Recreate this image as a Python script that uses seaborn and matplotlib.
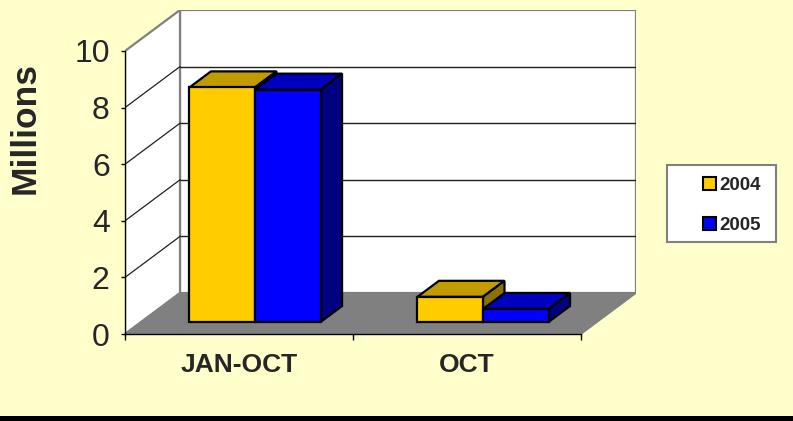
import matplotlib
matplotlib.use("Agg")
import matplotlib.pyplot as plt
from matplotlib.patches import Polygon, Rectangle, Patch
from matplotlib.lines import Line2D
import seaborn as sns
import pandas as pd

# ---------------- data ----------------
categories = ["JAN-OCT", "OCT"]
series = ["2004", "2005"]
values_2004 = [8.29, 0.89]
values_2005 = [8.21, 0.46]
y_ticks = [0, 2, 4, 6, 8, 10]
y_label = "Millions"

front_colors = {"2004": "#FFCC00", "2005": "#0000FF"}
top_colors = {"2004": "#C09C00", "2005": "#0000C0"}
side_colors = {"2004": "#8C7000", "2005": "#000080"}

df = pd.DataFrame({
    "category": categories * 2,
    "year": [series[0]] * len(categories) + [series[1]] * len(categories),
    "value": values_2004 + values_2005,
})

sns.set_theme(style="white")
plt.rcParams["font.family"] = ["Liberation Sans", "DejaVu Sans"]

W, H, DPI = 793, 421, 100
fig = plt.figure(figsize=(W / DPI, H / DPI), dpi=DPI, facecolor="#FFFFCC")

# geometry (pixels)
PXC = 228.0       # pixels per category
PXV = 28.3        # pixels per value unit
X0, Y0 = 125, 334  # front-plane origin (image coords)
WALL = (55, 41)    # full depth of the 3D box
BAR_FRONT = (16, 12)
BAR_DEPTH = (21.5, 16)

xmax = 1.5 + WALL[0] / PXC
ymax = 10 + WALL[1] / PXV
ax_w = (xmax + 0.5) * PXC
ax_h = ymax * PXV
ax = fig.add_axes([X0 / W, (H - Y0) / H, ax_w / W, ax_h / H])
ax.patch.set_alpha(0)

sns.barplot(data=df, x="category", y="value", hue="year", order=categories,
            hue_order=series, palette=front_colors, width=0.575,
            edgecolor="black", linewidth=1.6, saturation=1, ax=ax, legend=False)

ax.set_xlim(-0.5, xmax)
ax.set_ylim(0, ymax)

def d(px):
    return (px[0] / PXC, px[1] / PXV)

wx, wy = d(WALL)
fx, fy = d(BAR_FRONT)
bx, by = d(BAR_DEPTH)

gray = "#808080"
# back wall
ax.add_patch(Rectangle((-0.5 + wx, wy), 2, 10, facecolor="white", edgecolor=gray,
                       lw=1.6, zorder=0.5))
# side wall
ax.add_patch(Polygon([(-0.5, 0), (-0.5, 10), (-0.5 + wx, 10 + wy), (-0.5 + wx, wy)],
                     closed=True, facecolor="white", edgecolor=gray, lw=1.6, zorder=0.6))
# floor
ax.add_patch(Polygon([(-0.5, 0), (1.5, 0), (1.5 + wx, wy), (-0.5 + wx, wy)],
                     closed=True, facecolor=gray, edgecolor=gray, lw=1.2, zorder=0.7))
# gridlines
for t in y_ticks[1:-1]:
    ax.add_line(Line2D([-0.5 + wx, 1.5 + wx], [t + wy, t + wy], color="#202020", lw=1.0, zorder=0.8))
    ax.add_line(Line2D([-0.5, -0.5 + wx], [t, t + wy], color="#202020", lw=0.9, zorder=0.8))

# 3D bars
bars = [p for p in ax.patches if isinstance(p, Rectangle) and p.get_height() > 0
        and abs(p.get_width() - 0.2875) < 0.01]
for i, p in enumerate(bars):
    year = series[i // len(categories)]
    z = 3 + (i // len(categories)) * 0.2
    x, w, h = p.get_x(), p.get_width(), p.get_height()
    x0 = x + fx
    x1 = x0 + w
    y0 = fy
    y1 = fy + h
    p.set_x(x0)
    p.set_y(y0)
    p.set_zorder(z + 0.1)
    ax.add_patch(Polygon([(x0, y1), (x1, y1), (x1 + bx, y1 + by), (x0 + bx, y1 + by)],
                         closed=True, facecolor=top_colors[year], edgecolor="black",
                         lw=1.6, zorder=z, joinstyle="miter"))
    ax.add_patch(Polygon([(x1, y0), (x1, y1), (x1 + bx, y1 + by), (x1 + bx, y0 + by)],
                         closed=True, facecolor=side_colors[year], edgecolor="black",
                         lw=1.6, zorder=z, joinstyle="miter"))

# axes / ticks
for s in ["top", "right"]:
    ax.spines[s].set_visible(False)
ax.spines["left"].set_bounds(0, 10)
ax.spines["bottom"].set_bounds(-0.5, 1.5)
for s in ["left", "bottom"]:
    ax.spines[s].set_color("black")
    ax.spines[s].set_linewidth(1.0)
    ax.spines[s].set_zorder(2)

ax.set_yticks(y_ticks)
ax.set_yticklabels([str(t) for t in y_ticks])
ax.tick_params(axis="y", which="major", direction="out", length=3, width=1,
               color="black", labelsize=23, pad=8, left=True)
ax.set_xticks([-0.5, 0.5, 1.5])
ax.set_xticklabels([])
ax.set_xticks([0, 1], minor=True)
ax.set_xticklabels(categories, minor=True, fontweight="bold", fontsize=19)
ax.tick_params(axis="x", which="major", direction="out", length=4.3, width=1,
               color="black", bottom=True)
ax.tick_params(axis="x", which="minor", length=0, pad=14, bottom=True)
ax.set_xlabel("")
ax.set_ylabel(y_label, fontsize=25.5, fontweight="bold", va="center", ha="center")
ax.yaxis.set_label_coords((25 - X0) / ax_w, ((H - 128) - (H - Y0)) / ax_h)

# legend
fig.patches.append(Rectangle((667 / W, 1 - 242 / H), 109 / W, 77 / H, transform=fig.transFigure,
                             facecolor="white", edgecolor=gray, lw=1.5, zorder=5))
handles = [Patch(facecolor=front_colors[s], edgecolor="black", lw=1.5) for s in series]
fs = 13.5
fig.legend(handles, series, loc="upper left", bbox_to_anchor=(703 / W, 1 - 177 / H),
           frameon=False, prop={"weight": "bold", "size": fs},
           handlelength=0.69, handleheight=0.69, handletextpad=0.2,
           labelspacing=1.2, borderpad=0, borderaxespad=0)

# bottom black strip
fig.patches.append(Rectangle((0, 0), 1, 5 / H, transform=fig.transFigure,
                             facecolor="black", edgecolor="none", zorder=5))

fig.savefig("out.png", dpi=DPI, facecolor=fig.get_facecolor())
